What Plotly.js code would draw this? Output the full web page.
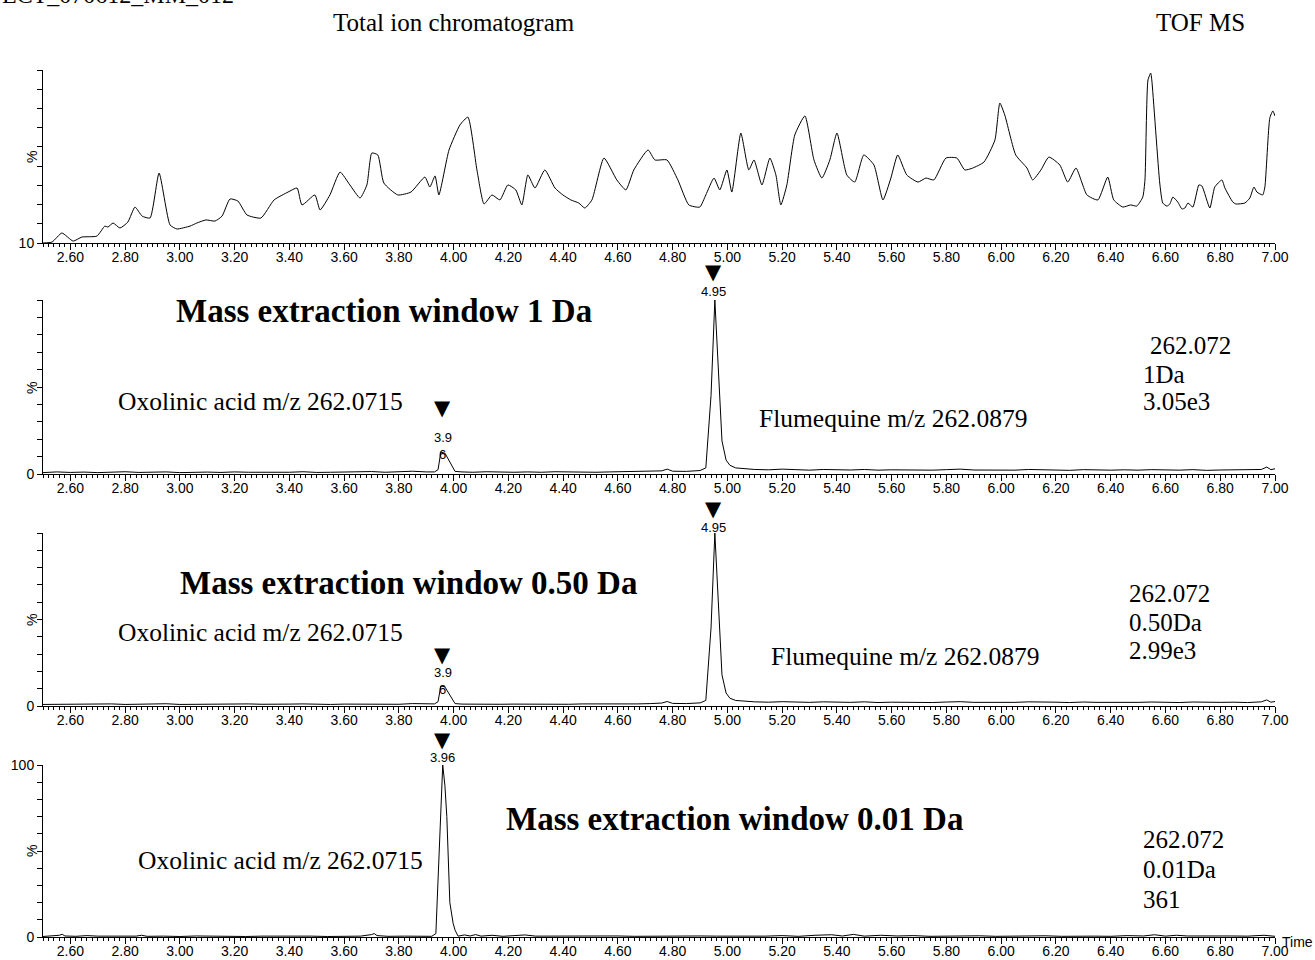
<!DOCTYPE html>
<html>
<head>
<meta charset="utf-8">
<script src="https://cdn.plot.ly/plotly-3.0.1.min.js"></script>
<style>html,body{margin:0;padding:0;background:#fff;}#chart{width:1315px;height:960px;}</style>
</head>
<body>
<div id="chart"></div>
<script>
// ---------- DATA ----------
// Total ion chromatogram (time in min, intensity in %)
const ticTime = [2.500,2.533,2.569,2.610,2.642,2.697,2.726,2.737,2.756,2.781,2.810,2.836,2.862,2.891,2.924,2.964,2.989,3.037,3.062,3.095,3.128,3.154,3.183,3.212,3.245,3.296,3.344,3.395,3.428,3.446,3.493,3.512,3.548,3.585,3.621,3.658,3.683,3.701,3.723,3.745,3.796,3.844,3.895,3.913,3.932,3.946,3.983,4.023,4.052,4.085,4.111,4.140,4.169,4.198,4.227,4.249,4.271,4.297,4.333,4.370,4.399,4.428,4.457,4.479,4.505,4.549,4.596,4.629,4.658,4.710,4.735,4.779,4.819,4.859,4.899,4.921,4.951,4.972,4.998,5.016,5.049,5.078,5.097,5.126,5.155,5.177,5.195,5.217,5.246,5.283,5.316,5.345,5.374,5.400,5.436,5.465,5.498,5.535,5.568,5.597,5.622,5.655,5.696,5.725,5.754,5.798,5.838,5.867,5.896,5.937,5.977,5.995,6.013,6.053,6.094,6.115,6.145,6.174,6.214,6.243,6.273,6.313,6.353,6.389,6.411,6.444,6.473,6.495,6.517,6.525,6.536,6.546,6.550,6.579,6.590,6.605,6.616,6.627,6.645,6.660,6.671,6.682,6.700,6.722,6.733,6.762,6.780,6.806,6.817,6.846,6.857,6.890,6.908,6.923,6.934,6.955,6.963,6.981,6.992,7.000];
const ticPct = [10.0,10.5,15.2,11.0,13.1,13.6,18.8,18.3,20.4,17.8,20.9,28.7,24.0,23.0,46.4,19.4,17.3,18.8,20.4,22.0,21.4,24.0,32.9,31.8,24.6,23.0,32.4,36.5,38.6,29.8,35.0,27.2,35.0,46.9,40.2,33.4,40.2,56.8,55.8,41.2,35.0,36.5,44.3,39.1,44.9,35.0,58.4,71.4,75.5,48.0,30.3,35.0,32.4,40.2,37.6,29.8,45.4,38.6,48.0,38.6,35.0,32.4,30.8,28.2,32.4,54.2,42.8,37.6,48.0,58.4,53.2,53.2,42.8,29.8,28.7,35.0,43.8,37.6,48.0,36.5,67.2,48.0,53.2,40.2,54.2,45.4,29.8,40.2,66.2,76.1,53.2,43.8,53.2,67.2,45.4,41.7,55.8,50.6,32.4,43.8,55.8,45.4,41.7,43.8,42.8,54.2,54.2,48.0,49.0,52.1,63.6,82.8,76.6,55.8,49.0,42.8,48.0,54.7,50.6,41.7,49.0,35.0,32.4,44.3,32.4,28.7,29.8,29.2,33.9,42.8,94.8,98.4,94.8,41.2,30.8,29.2,30.3,33.9,31.3,27.7,28.2,30.8,28.7,40.2,39.7,28.2,39.1,42.8,38.6,31.3,30.3,30.8,33.4,39.1,36.5,35.0,39.1,75.0,78.7,76.1];

// Extracted ion chromatograms, 1 Da and 0.50 Da windows (shared time grid)
const eicTime = [2.50,2.55,2.60,2.65,2.70,2.75,2.80,2.85,2.90,2.95,3.00,3.05,3.10,3.15,3.20,3.25,3.30,3.35,3.40,3.45,3.50,3.55,3.60,3.65,3.70,3.75,3.80,3.85,3.90,
  3.93,3.943,3.953,3.968,3.986,4.005,4.03,4.07,
  4.12,4.17,4.22,4.27,4.32,4.37,4.42,4.47,4.52,4.57,4.62,4.67,4.72,
  4.76,4.78,4.80,4.85,4.90,
  4.921,4.94,4.954,4.968,4.98,4.995,5.009,5.03,5.06,
  5.10,5.15,5.20,5.25,5.30,5.35,5.40,5.45,5.50,5.55,5.60,5.65,5.70,5.75,5.80,5.85,5.90,5.95,6.00,6.05,6.10,6.15,6.20,6.25,6.30,6.35,6.40,6.45,6.50,6.55,6.60,6.65,6.70,6.75,6.80,6.85,6.90,6.95,
  6.97,6.985,7.00];
const eic1Da = [0.8,1.2,0.9,1.1,0.8,1.0,1.3,0.9,1.0,1.2,0.8,1.0,1.1,0.9,1.2,1.0,0.9,1.1,1.0,1.3,0.9,1.0,1.2,1.0,1.4,1.0,1.1,1.6,1.2,
  1.2,2.5,12.6,12.0,7.0,1.5,1.2,1.0,
  1.3,1.1,1.0,1.2,1.0,1.3,1.1,1.2,1.0,1.2,1.4,1.3,1.5,
  1.8,2.8,1.6,1.5,2.0,
  3.5,45,100,60,19,8,5.0,3.5,3.0,
  2.6,2.4,2.8,2.5,2.2,2.6,2.4,2.3,2.6,2.2,2.4,2.3,2.6,2.2,2.5,2.8,2.3,2.2,2.5,2.2,2.6,2.3,2.4,2.1,2.5,2.3,2.2,2.4,2.2,2.5,2.3,2.2,2.5,2.1,2.3,2.4,2.2,2.6,
  4.0,2.5,3.0];
const eic050Da = [0.9,1.0,1.1,0.8,1.0,1.2,0.9,1.1,1.0,1.3,0.9,1.0,1.1,0.8,1.0,1.2,1.0,0.9,1.1,1.2,1.0,0.9,1.1,1.0,1.3,0.9,1.0,1.4,1.1,
  1.2,2.5,11.6,11.0,6.5,1.4,1.1,1.0,
  1.2,1.0,1.1,1.0,1.2,1.1,1.0,1.2,1.1,1.0,1.3,1.2,1.4,
  1.7,2.6,1.5,1.4,1.8,
  3.2,45,100,58,18,7.5,4.5,3.2,2.8,
  2.4,2.2,2.5,2.3,2.1,2.4,2.2,2.1,2.4,2.0,2.2,2.1,2.4,2.0,2.3,2.5,2.1,2.0,2.3,2.1,2.4,2.1,2.2,2.0,2.3,2.1,2.0,2.2,2.1,2.3,2.1,2.0,2.3,2.0,2.1,2.2,2.0,2.4,
  3.5,2.2,2.6];

// Extracted ion chromatogram, 0.01 Da window
const eic001Time = [2.50,2.54,2.56,2.57,2.58,2.62,2.66,2.70,2.76,2.80,2.84,2.86,2.88,2.94,3.00,3.06,3.12,3.18,3.24,3.30,3.36,3.42,3.48,3.54,3.60,3.66,3.70,3.71,3.72,3.76,3.82,3.88,3.92,3.935,3.947,3.96,3.968,3.975,3.986,3.998,4.005,4.016,4.04,4.06,4.08,4.10,4.14,4.18,4.22,4.26,4.30,4.36,4.42,4.48,4.54,4.60,4.66,4.72,4.78,4.84,4.90,4.96,5.02,5.08,5.14,5.20,5.26,5.32,5.38,5.42,5.46,5.50,5.56,5.62,5.68,5.74,5.80,5.86,5.92,5.98,6.04,6.10,6.16,6.22,6.28,6.34,6.40,6.46,6.52,6.56,6.60,6.64,6.68,6.72,6.78,6.84,6.90,6.96,7.00];
const eic001Da = [0.3,0.5,1.0,1.6,0.6,0.4,0.8,0.5,0.4,0.6,0.5,1.0,0.4,0.5,0.3,0.6,0.4,0.5,0.3,0.5,0.6,0.4,0.5,0.3,0.6,0.5,1.4,2.0,0.8,0.4,0.5,0.3,0.4,2.0,45,100,88,70,20,8,4,0.5,1.2,0.6,1.4,0.5,1.0,0.4,0.8,1.2,0.5,0.6,0.4,0.7,0.5,0.6,0.4,0.5,0.7,0.4,0.6,0.5,0.4,0.7,0.5,0.8,0.4,1.0,1.3,0.6,1.5,0.5,1.0,0.6,0.8,0.4,0.6,0.5,0.7,0.4,0.6,0.5,0.7,0.4,0.6,0.5,0.4,0.8,0.6,1.3,0.5,1.0,0.6,0.5,0.4,0.6,0.5,1.0,0.4];

// Tick labels
const xTickVals = [2.6,2.8,3.0,3.2,3.4,3.6,3.8,4.0,4.2,4.4,4.6,4.8,5.0,5.2,5.4,5.6,5.8,6.0,6.2,6.4,6.6,6.8,7.0];
const xTickText = ["2.60","2.80","3.00","3.20","3.40","3.60","3.80","4.00","4.20","4.40","4.60","4.80","5.00","5.20","5.40","5.60","5.80","6.00","6.20","6.40","6.60","6.80","7.00"];
const yTickVals = [0,10,20,30,40,50,60,70,80,90,100];
const yTickTextTIC = ["","10","","","","","","","","",""];
const yTickTextEIC = ["0","","","","","","","","","",""];
const yTickTextEIC001 = ["0","","","","","","","","","","100"];

// Peak labels
const peakFlumequine = 4.95;
const peakOxolinic = 3.96;

// Text
const fileName = "ECT_070612_MM_012";
const ticTitle = "Total ion chromatogram";
const instrument = "TOF MS";
const windowTitles = ["Mass extraction window 1 Da","Mass extraction window 0.50 Da","Mass extraction window 0.01 Da"];
const oxoLabel = "Oxolinic acid m/z 262.0715";
const fluLabel = "Flumequine m/z 262.0879";
const massInfo = [["262.072","1Da","3.05e3"],["262.072","0.50Da","2.99e3"],["262.072","0.01Da","361"]];

// ---------- LAYOUT HELPERS ----------
const W = 1315, H = 960, ML = 43, MR = 40, MT = 70, MB = 23;
const PW = W - ML - MR, PH = H - MT - MB;
const px = v => (v - ML) / PW;
const py = v => (H - MB - v) / PH;
const domY = (top, bot) => [py(bot), py(top)];

const serif = "Liberation Serif, Times New Roman, serif";
const sans = "Liberation Sans, Arial, sans-serif";

function xAxis(anchor) {
  return {
    anchor: anchor, domain: [0, 1], range: [2.5, 7.0],
    tickmode: "array", tickvals: xTickVals, ticktext: xTickText,
    ticks: "outside", ticklen: 6, tickwidth: 1, tickcolor: "#000",
    ticklabelstandoff: -5,
    showline: true, linecolor: "#000", linewidth: 1,
    showgrid: false, zeroline: false, fixedrange: true,
    tickfont: {family: sans, size: 14, color: "#000"},
    minor: {tickmode: "linear", tick0: 2.5, dtick: 0.02, ticks: "outside", ticklen: 3, tickwidth: 1, tickcolor: "#000", showgrid: false}
  };
}
function yAxis(anchor, domain, range, ticktext) {
  return {
    anchor: anchor, domain: domain, range: range,
    tickmode: "array", tickvals: yTickVals, ticktext: ticktext,
    ticks: "outside", ticklen: 5, tickwidth: 1, tickcolor: "#000",
    showline: true, linecolor: "#000", linewidth: 1,
    showgrid: false, zeroline: false, fixedrange: true,
    tickfont: {family: sans, size: 14, color: "#000"}
  };
}

const line = {color: "#000", width: 1};
const traces = [
  {x: ticTime, y: ticPct, xaxis: "x", yaxis: "y", type: "scatter", mode: "lines", line: {color: "#000", width: 1, shape: "spline", smoothing: 0.5}, hoverinfo: "skip"},
  {x: eicTime, y: eic1Da, xaxis: "x2", yaxis: "y2", type: "scatter", mode: "lines", line: line, hoverinfo: "skip"},
  {x: eicTime, y: eic050Da, xaxis: "x3", yaxis: "y3", type: "scatter", mode: "lines", line: line, hoverinfo: "skip"},
  {x: eic001Time, y: eic001Da, xaxis: "x4", yaxis: "y4", type: "scatter", mode: "lines", line: line, hoverinfo: "skip"}
];

const ann = [];
function T(text, x, y, size, opts) {
  ann.push(Object.assign({
    text: text, xref: "paper", yref: "paper", x: px(x), y: py(y),
    xanchor: "center", yanchor: "middle", showarrow: false,
    font: {family: serif, size: size, color: "#000"}
  }, opts || {}));
}
function tri(xref, t, y) {
  ann.push({text: "▼", xref: xref, yref: "paper", x: t, y: py(y), xanchor: "center", yanchor: "middle",
    showarrow: false, font: {family: "DejaVu Sans", size: 21, color: "#000"}});
}
function plab(xref, t, text, y) {
  ann.push({text: text, xref: xref, yref: "paper", x: t, y: py(y), xanchor: "center", yanchor: "middle",
    showarrow: false, font: {family: sans, size: 13, color: "#000"}});
}

// header
T(fileName, 0, -5, 24, {xanchor: "left"});
T(ticTitle, 454, 22, 25);
T(instrument, 1200, 22, 25);

// % labels
[157, 388, 620, 851].forEach(y => T("%", 32, y, 14, {textangle: -90, font: {family: sans, size: 14, color: "#000"}}));

// panel 2
T(windowTitles[0], 384, 311, 33, {font: {family: serif, size: 33, color: "#000", weight: "bold"}});
T(oxoLabel, 260, 402, 25.5);
T(fluLabel, 893, 418, 25.5);
T(massInfo[0][0], 1148, 345, 25, {xanchor: "left"});
T(massInfo[0][1], 1141, 374, 25, {xanchor: "left"});
T(massInfo[0][2], 1141, 402, 25, {xanchor: "left"});
tri("x2", peakFlumequine, 272); plab("x2", peakFlumequine, "4.95", 291);
tri("x2", peakOxolinic, 408); plab("x2", peakOxolinic, "3.9", 437); plab("x2", peakOxolinic, "6", 455);

// panel 3
T(windowTitles[1], 409, 583, 33, {font: {family: serif, size: 33, color: "#000", weight: "bold"}});
T(oxoLabel, 260, 632, 25.5);
T(fluLabel, 905, 656, 25.5);
T(massInfo[1][0], 1127, 593, 25, {xanchor: "left"});
T(massInfo[1][1], 1127, 622, 25, {xanchor: "left"});
T(massInfo[1][2], 1127, 650, 25, {xanchor: "left"});
tri("x3", peakFlumequine, 509); plab("x3", peakFlumequine, "4.95", 527);
tri("x3", peakOxolinic, 655); plab("x3", peakOxolinic, "3.9", 672); plab("x3", peakOxolinic, "6", 690);

// panel 4
T(windowTitles[2], 734, 819, 33, {font: {family: serif, size: 33, color: "#000", weight: "bold"}});
T(oxoLabel, 280, 860, 25.5);
T(massInfo[2][0], 1141, 839, 25, {xanchor: "left"});
T(massInfo[2][1], 1141, 869, 25, {xanchor: "left"});
T(massInfo[2][2], 1141, 899, 25, {xanchor: "left"});
tri("x4", peakOxolinic, 740); plab("x4", peakOxolinic, "3.96", 757);
T("Time", 1280, 942, 14, {xanchor: "left", font: {family: sans, size: 14, color: "#000"}});

const layout = {
  width: W, height: H,
  margin: {l: ML, r: MR, t: MT, b: MB, pad: 0},
  paper_bgcolor: "#fff", plot_bgcolor: "#fff",
  showlegend: false,
  xaxis: xAxis("y"), yaxis: yAxis("x", domY(70, 243), [10, 100], yTickTextTIC),
  xaxis2: xAxis("y2"), yaxis2: yAxis("x2", domY(300, 474), [0, 100], yTickTextEIC),
  xaxis3: xAxis("y3"), yaxis3: yAxis("x3", domY(533, 706), [0, 100], yTickTextEIC),
  xaxis4: xAxis("y4"), yaxis4: yAxis("x4", domY(765, 937), [0, 100], yTickTextEIC001),
  annotations: ann
};

Plotly.newPlot("chart", traces, layout, {displayModeBar: false, staticPlot: true});
</script>
</body>
</html>
